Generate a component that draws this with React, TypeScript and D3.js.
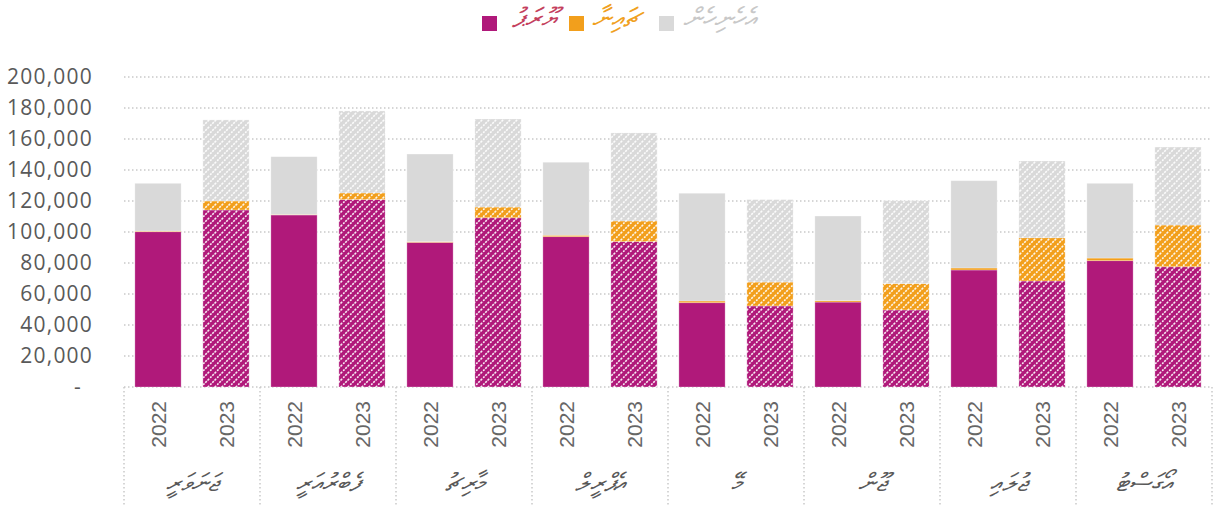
import React from "react";
import * as d3 from "d3";

const months = ["ޖަނަވަރީ", "ފެބްރުއަރީ", "މާރިޗު", "އެޕްރީލް", "މޭ", "ޖޫން", "ޖުލައި", "އޯގަސްޓު"];
const years = ["2022", "2023"];
const seriesNames = ["ޔޫރަޕު", "ޗައިނާ", "އެހެނިހެން"];
const seriesColors = ["#b0197a", "#f29f1c", "#d9d9d9"];
const legendTextColors = ["#c43f5e", "#f0a020", "#c8c8c8"];

// values in thousands
const europe2022 = [100.2, 111.0, 93.3, 97.0, 54.4, 54.8, 75.5, 81.5];
const china2022 = [0.4, 0.3, 0.5, 0.9, 1.1, 0.9, 1.3, 1.7];
const others2022 = [30.8, 37.3, 56.5, 47.1, 69.5, 54.6, 56.3, 48.2];
const europe2023 = [114.2, 120.9, 109.2, 93.8, 52.3, 49.7, 68.4, 77.6];
const china2023 = [5.8, 4.3, 6.9, 13.3, 15.4, 17.0, 27.9, 26.9];
const others2023 = [52.3, 52.9, 56.8, 56.8, 53.2, 53.5, 49.5, 50.3];
const yTicks = [0, 20000, 40000, 60000, 80000, 100000, 120000, 140000, 160000, 180000, 200000];

const W = 1219;
const H = 505;
const plotLeft = 124;
const plotRight = 1212;
const plotTop = 77;
const plotBottom = 387;

type Row = { month: string; year: string; s0: number; s1: number; s2: number };

const rows: Row[] = [];
months.forEach((m, i) => {
  rows.push({ month: m, year: "2022", s0: europe2022[i] * 1000, s1: china2022[i] * 1000, s2: others2022[i] * 1000 });
  rows.push({ month: m, year: "2023", s0: europe2023[i] * 1000, s1: china2023[i] * 1000, s2: others2023[i] * 1000 });
});

export default function App() {
  const x0 = d3.scaleBand<string>().domain(months).range([plotLeft, plotRight]).padding(0);
  const x1 = d3
    .scaleBand<string>()
    .domain(years)
    .range([0, x0.bandwidth()])
    .paddingInner(0.32)
    .paddingOuter(0.16);
  const y = d3.scaleLinear().domain([0, 200000]).range([plotBottom, plotTop]);
  const stack = d3.stack<Row>().keys(["s0", "s1", "s2"]);
  const stacked = stack(rows);
  const fmt = (v: number) => (v === 0 ? "-" : d3.format(",")(v));
  const gridColor = "#c9c9c9";

  const boundaries = months.map((m) => x0(m) as number).concat([plotRight]);

  const legendItems = [
    { sq: 482, tx: 556 },
    { sq: 569, tx: 641 },
    { sq: 659, tx: 756 },
  ];

  return (
    <svg width={W} height={H} style={{ position: "absolute", left: 0, top: 0, background: "#fff" }}>
      <defs>
        {seriesColors.map((c, i) => (
          <pattern
            key={i}
            id={`hatch${i}`}
            patternUnits="userSpaceOnUse"
            width={7}
            height={7}
          >
            <rect width={7} height={7} fill={c} />
            <path
              d="M-1.75,1.75 L1.75,-1.75 M0,7 L7,0 M5.25,8.75 L8.75,5.25"
              stroke="#ffffff"
              strokeWidth={1.6}
              strokeDasharray="2.2,1"
              opacity={0.9}
            />
          </pattern>
        ))}
      </defs>

      {/* gridlines */}
      {yTicks.map((t) => (
        <line
          key={t}
          x1={plotLeft}
          x2={plotRight}
          y1={y(t)}
          y2={y(t)}
          stroke={gridColor}
          strokeWidth={1.5}
          strokeDasharray="1.5,2.5"
        />
      ))}

      {/* group separators */}
      {boundaries.map((bx, i) => (
        <line
          key={i}
          x1={bx}
          x2={bx}
          y1={plotBottom}
          y2={H}
          stroke={gridColor}
          strokeWidth={1.5}
          strokeDasharray="1.5,2.5"
        />
      ))}

      {/* y labels */}
      {yTicks.map((t) => (
        <text
          key={t}
          x={t === 0 ? 82 : 93}
          y={y(t)}
          dy="0.35em"
          textAnchor="end"
          fontFamily="'Open Sans', sans-serif"
          fontSize={21}
          letterSpacing={1.2}
          fill="#595959"
        >
          {fmt(t)}
        </text>
      ))}

      {/* bars */}
      {stacked.map((layer, si) =>
        layer.map((d, j) => {
          const r = d.data;
          const bx = (x0(r.month) as number) + (x1(r.year) as number);
          const top = y(d[1]);
          const bottom = y(d[0]);
          const fill = r.year === "2023" ? `url(#hatch${si})` : seriesColors[si];
          return (
            <rect
              key={`${si}-${j}`}
              x={bx}
              y={top}
              width={x1.bandwidth()}
              height={Math.max(0, bottom - top)}
              fill={fill}
              stroke="#ffffff"
              strokeOpacity={0.35}
              strokeWidth={0.8}
            />
          );
        })
      )}

      {/* year labels */}
      {rows.map((r, i) => {
        const cx = (x0(r.month) as number) + (x1(r.year) as number) + x1.bandwidth() / 2;
        return (
          <text
            key={i}
            transform={`translate(${cx},401) rotate(-90)`}
            textAnchor="end"
            dominantBaseline="central"
            fontFamily="'Liberation Sans', Arial, sans-serif"
            fontSize={21}
            fill="#666666"
          >
            {r.year}
          </text>
        );
      })}

      {/* month labels */}
      {months.map((m) => (
        <text
          key={m}
          x={(x0(m) as number) + x0.bandwidth() / 2}
          y={491}
          textAnchor="middle"
          direction="rtl"
          fontFamily="'DejaVu Sans', sans-serif"
          fontStyle="italic"
          fontSize={25}
          fill="#595959"
        >
          {m}
        </text>
      ))}

      {/* legend */}
      {seriesNames.map((n, i) => (
        <g key={n}>
          <rect x={legendItems[i].sq} y={16} width={15} height={15} fill={seriesColors[i]} />
          <text
            x={legendItems[i].tx}
            y={27}
            textAnchor="start"
            direction="rtl"
            fontFamily="'DejaVu Sans', sans-serif"
            fontStyle="italic"
            fontSize={27}
            fill={legendTextColors[i]}
          >
            {n}
          </text>
        </g>
      ))}
    </svg>
  );
}
